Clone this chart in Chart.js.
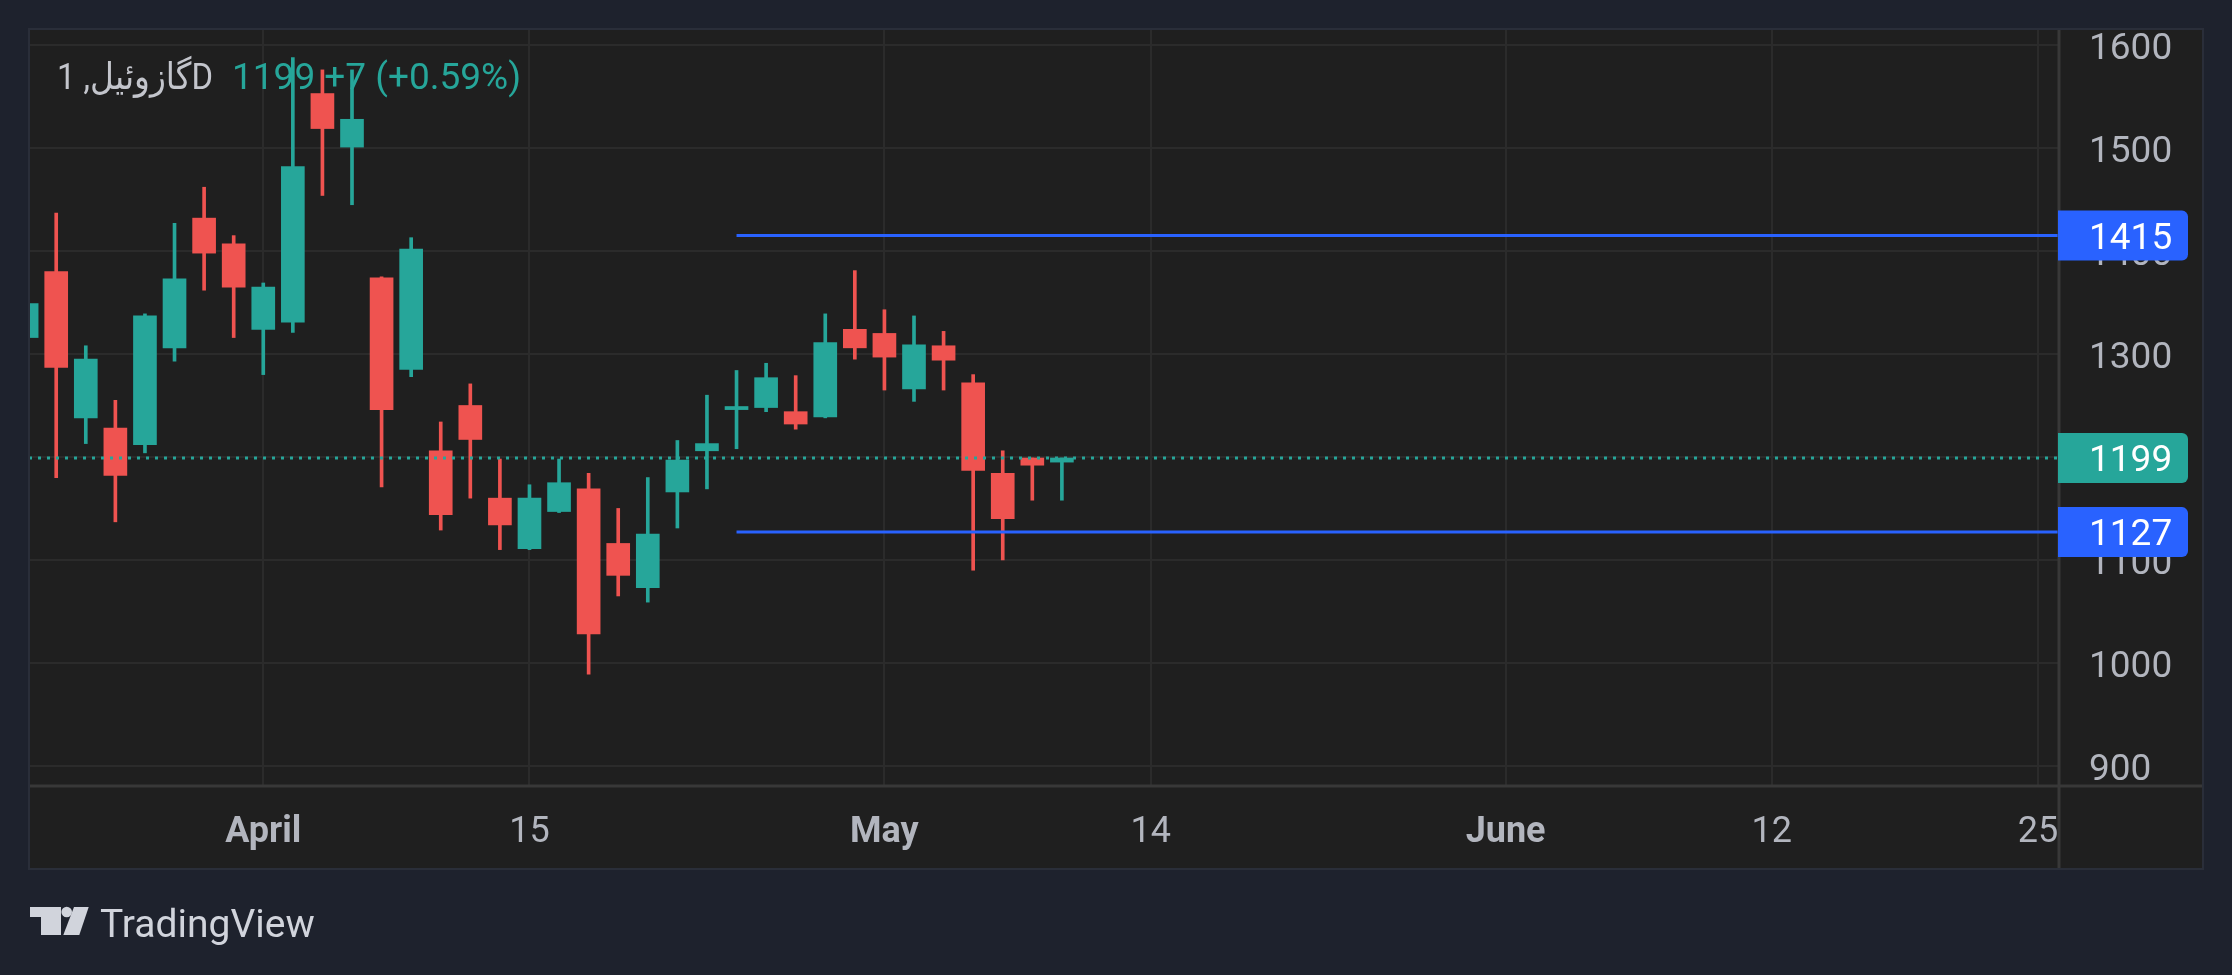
<!DOCTYPE html>
<html>
<head>
<meta charset="utf-8">
<script src="https://cdn.jsdelivr.net/npm/chart.js@4.4.1/dist/chart.umd.min.js"></script>
<style>
  html, body { margin: 0; padding: 0; background: #1e222d; }
  canvas { display: block; }
</style>
</head>
<body>
<canvas id="chart" width="2232" height="975"></canvas>
<script>
// daily candles, oldest first
const OPEN  = [1316, 1380, 1238, 1228, 1212, 1306, 1432, 1407, 1324, 1331, 1553, 1501, 1374, 1285, 1206, 1250, 1160, 1111,
               1147, 1169, 1116, 1073, 1166, 1206, 1246, 1248, 1244, 1239, 1324, 1320, 1266, 1308, 1272, 1184, 1199, 1195];
const HIGH  = [1352, 1437, 1308, 1255, 1339, 1427, 1462, 1415, 1369, 1588, 1576, 1576, 1375, 1413, 1234, 1271, 1198, 1173,
               1198, 1184, 1150, 1180, 1216, 1260, 1284, 1291, 1279, 1339, 1381, 1343, 1337, 1322, 1280, 1206, 1199, 1199];
const LOW   = [1310, 1180, 1213, 1137, 1204, 1293, 1362, 1316, 1280, 1321, 1454, 1445, 1171, 1278, 1129, 1160, 1110, 1110,
               1146,  989, 1065, 1059, 1131, 1169, 1208, 1244, 1227, 1238, 1295, 1265, 1254, 1265, 1090, 1100, 1158, 1158];
const CLOSE = [1349, 1287, 1295, 1182, 1337, 1373, 1398, 1365, 1365, 1482, 1519, 1528, 1246, 1402, 1144, 1217, 1134, 1160,
               1175, 1028, 1085, 1125, 1197, 1213, 1249, 1277, 1232, 1311, 1306, 1297, 1309, 1294, 1187, 1140, 1192, 1199];

// time axis (bar index -> label)
const TICK_POS    = [8, 17, 29, 38, 50, 59, 68];
const TICK_LABELS = ['April', '15', 'May', '14', 'June', '12', '25'];
const MONTHS      = ['April', 'May', 'June'];

// price axis
const PRICE_TICKS = [900, 1000, 1100, 1200, 1300, 1400, 1500, 1600];

// horizontal levels drawn from bar 24 onward
const LEVELS     = [1415, 1127];
const LEVEL_FROM = 24;

const SYMBOL   = 'گازوئیل';
const INTERVAL = '1D';

// visible range
const X_MIN = 0.08, X_MAX = 68.71;
const Y_MIN = 880.4, Y_MAX = 1615.7;

const UP = '#26a69a', DOWN = '#ef5350', LEVEL_COLOR = '#2962ff';
const TXT = '#b2b5be', GRID = '#2b2b2b', SEP = '#383838';
const FONT = 'Roboto, "DejaVu Sans", sans-serif';

const colors = OPEN.map((o, i) => CLOSE[i] >= o ? UP : DOWN);
const last = CLOSE[CLOSE.length - 1];
const prev = CLOSE[CLOSE.length - 2];
const chg = last - prev;
const pct = (chg / prev * 100).toFixed(2);

const datasets = [
  {
    type: 'bar',
    data: OPEN.map((o, i) => ({ x: i, y: [LOW[i], HIGH[i]] })),
    backgroundColor: colors,
    barThickness: 3,
    grouped: false,
    order: 2,
  },
  {
    type: 'bar',
    data: OPEN.map((o, i) => ({ x: i, y: [o, CLOSE[i]] })),
    backgroundColor: colors,
    barThickness: 23,
    grouped: false,
    order: 1,
  },
  {
    type: 'line',
    data: [{ x: X_MIN, y: last }, { x: X_MAX, y: last }],
    borderColor: chg >= 0 ? UP : DOWN,
    borderWidth: 3,
    borderDash: [3, 6],
    pointRadius: 0,
    order: 0,
  },
];
LEVELS.forEach(v => {
  datasets.push({
    type: 'line',
    data: [{ x: LEVEL_FROM, y: v }, { x: X_MAX, y: v }],
    borderColor: LEVEL_COLOR,
    borderWidth: 3,
    pointRadius: 0,
    order: 0,
  });
});

const PANEL = { l: 29, t: 29, r: 2203, b: 869 };

const decor = {
  id: 'decor',
  beforeDraw(chart) {
    const c = chart.ctx;
    c.save();
    c.fillStyle = '#1e222d';
    c.fillRect(0, 0, chart.width, chart.height);
    c.fillStyle = '#1f1f1f';
    c.fillRect(PANEL.l, PANEL.t, PANEL.r - PANEL.l, PANEL.b - PANEL.t);
    c.restore();
  },
  afterDraw(chart) {
    const c = chart.ctx;
    const area = chart.chartArea;
    const ys = chart.scales.y;
    c.save();

    // axis separators
    c.strokeStyle = SEP;
    c.lineWidth = 3;
    c.beginPath();
    c.moveTo(area.right, PANEL.t);
    c.lineTo(area.right, PANEL.b);
    c.moveTo(PANEL.l, area.bottom);
    c.lineTo(PANEL.r, area.bottom);
    c.stroke();

    // panel border
    c.strokeStyle = '#2a2e39';
    c.lineWidth = 2;
    c.strokeRect(PANEL.l, PANEL.t, PANEL.r - PANEL.l, PANEL.b - PANEL.t);

    // legend
    c.font = '37px ' + FONT;
    c.textBaseline = 'alphabetic';
    c.textAlign = 'left';
    c.fillStyle = '#c3c5cc';
    const name = SYMBOL + ', ' + INTERVAL;
    const nw = c.measureText(name).width;
    const fit = Math.min(1, 156 / nw);
    c.save();
    c.translate(57, 89);
    c.scale(fit, 1);
    c.fillText(name, 0, 0);
    c.restore();
    const nx = Math.max(232, 57 + nw * fit + 16);
    c.fillStyle = chg >= 0 ? UP : DOWN;
    c.fillText(last + ' ' + (chg >= 0 ? '+' : '') + chg + ' (' + (chg >= 0 ? '+' : '') + pct + '%)', nx, 89);

    // price badges
    const badge = (v, col) => {
      const y = ys.getPixelForValue(v);
      c.fillStyle = col;
      c.beginPath();
      c.roundRect(area.right - 1, y - 25, 130, 50, [0, 6, 6, 0]);
      c.fill();
      c.fillStyle = '#ffffff';
      c.font = '37px ' + FONT;
      c.textBaseline = 'middle';
      c.textAlign = 'left';
      c.fillText(String(v), area.right + 30, y + 4);
    };
    badge(LEVELS[0], LEVEL_COLOR);
    badge(last, chg >= 0 ? UP : DOWN);
    badge(LEVELS[1], LEVEL_COLOR);

    // TradingView mark
    c.fillStyle = '#d1d4dc';
    c.fillRect(30, 907, 31, 10);
    c.fillRect(41, 907, 20, 28);
    c.beginPath();
    c.arc(66.7, 912, 5.3, 0, Math.PI * 2);
    c.fill();
    c.beginPath();
    c.moveTo(74, 907);
    c.lineTo(88.7, 907);
    c.lineTo(79.3, 935);
    c.lineTo(63.3, 935);
    c.closePath();
    c.fill();
    c.font = '39px ' + FONT;
    c.textBaseline = 'alphabetic';
    c.fillText('TradingView', 100, 937);

    c.restore();
  },
};

new Chart(document.getElementById('chart'), {
  type: 'bar',
  data: { datasets: datasets },
  options: {
    responsive: false,
    animation: false,
    devicePixelRatio: 1,
    layout: { padding: { left: 29, top: 29, right: 29, bottom: 106 } },
    plugins: { legend: { display: false }, tooltip: { enabled: false } },
    scales: {
      x: {
        type: 'linear',
        min: X_MIN,
        max: X_MAX,
        bounds: 'data',
        offset: false,
        grid: { color: GRID, lineWidth: 2, drawTicks: false, offset: false },
        border: { display: false },
        afterBuildTicks: ax => { ax.ticks = TICK_POS.map(v => ({ value: v })); },
        afterFit: ax => { ax.height = 83; ax.paddingLeft = 0; ax.paddingRight = 0; },
        ticks: {
          autoSkip: false,
          maxRotation: 0,
          padding: 25,
          color: TXT,
          font: ctx => ({
            family: FONT,
            size: 36,
            weight: MONTHS.includes(TICK_LABELS[ctx.index]) ? 'bold' : 'normal',
          }),
          callback: (v, i) => TICK_LABELS[i],
        },
      },
      y: {
        type: 'linear',
        position: 'right',
        min: Y_MIN,
        max: Y_MAX,
        bounds: 'data',
        beginAtZero: false,
        grid: { color: GRID, lineWidth: 2, drawTicks: false },
        border: { display: false },
        afterBuildTicks: ax => { ax.ticks = PRICE_TICKS.map(v => ({ value: v })); },
        afterFit: ax => { ax.width = 144; ax.paddingTop = 0; ax.paddingBottom = 0; },
        ticks: {
          crossAlign: 'near',
          padding: 30,
          labelOffset: 5,
          color: TXT,
          font: { family: FONT, size: 37 },
          callback: v => String(v),
        },
      },
    },
  },
  plugins: [decor],
});
</script>
</body>
</html>
